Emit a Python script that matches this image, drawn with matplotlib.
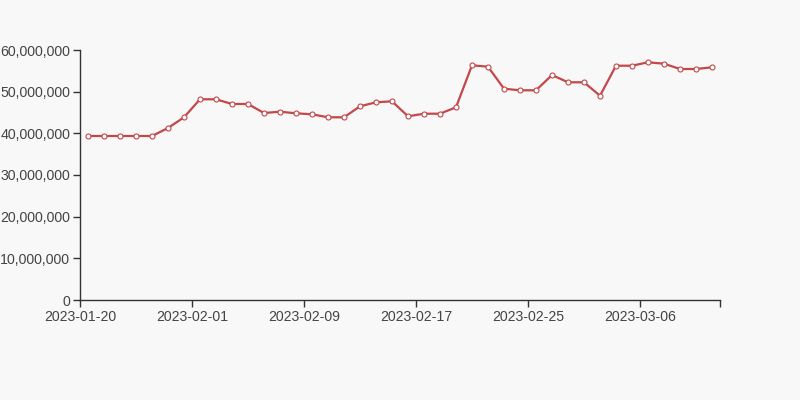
import matplotlib.pyplot as plt
from matplotlib.ticker import FuncFormatter

dates = [
    "2023-01-20", "2023-01-22", "2023-01-24", "2023-01-26", "2023-01-28",
    "2023-01-29", "2023-01-31", "2023-02-01", "2023-02-02", "2023-02-03",
    "2023-02-04", "2023-02-06", "2023-02-07", "2023-02-08", "2023-02-09",
    "2023-02-10", "2023-02-11", "2023-02-13", "2023-02-14", "2023-02-15",
    "2023-02-16", "2023-02-17", "2023-02-18", "2023-02-20", "2023-02-21",
    "2023-02-22", "2023-02-23", "2023-02-24", "2023-02-25", "2023-02-27",
    "2023-02-28", "2023-03-01", "2023-03-02", "2023-03-03", "2023-03-04",
    "2023-03-06", "2023-03-07", "2023-03-08", "2023-03-09", "2023-03-10",
]
values = [
    39.36, 39.36, 39.36, 39.36, 39.36, 41.28, 43.85, 48.17, 48.17, 47.04,
    47.04, 44.88, 45.19, 44.81, 44.57, 43.85, 43.85, 46.49, 47.45, 47.69,
    44.09, 44.71, 44.71, 46.25, 56.33, 55.99, 50.71, 50.33, 50.33, 54.00,
    52.25, 52.25, 49.03, 56.23, 56.23, 57.05, 56.71, 55.44, 55.44, 55.85,
]
values = [v * 1e6 for v in values]
label_every = 7

bg = "#f8f8f8"
line_color = "#c4474a"
axis_color = "#333333"
text_color = "#444444"

plt.rcParams["font.family"] = ["Liberation Sans", "DejaVu Sans"]

fig = plt.figure(figsize=(8, 4), dpi=100, facecolor=bg)
ax = fig.add_axes([0.1, 0.25, 0.8, 0.625], facecolor=bg)

x = list(range(len(values)))
ax.plot(x, values, color=line_color, lw=1.6, marker="o", ms=3.6,
        markerfacecolor="white", markeredgecolor=line_color, markeredgewidth=0.8,
        solid_joinstyle="round")

ax.set_xlim(-0.5, len(values) - 0.5)
ax.set_ylim(0, 60e6)

ticks = [i - 0.5 for i in range(0, len(values), label_every)] + [len(values) - 0.5]
labels = [dates[i] for i in range(0, len(values), label_every)] + [""]
ax.set_xticks(ticks)
ax.set_xticklabels(labels)
ax.set_yticks([0, 10e6, 20e6, 30e6, 40e6, 50e6, 60e6])
ax.yaxis.set_major_formatter(FuncFormatter(lambda v, p: f"{int(v):,}"))

for s in ["top", "right"]:
    ax.spines[s].set_visible(False)
for s in ["left", "bottom"]:
    ax.spines[s].set_color(axis_color)
    ax.spines[s].set_linewidth(1)
ax.tick_params(axis="both", colors=axis_color, length=5, width=1,
               labelsize=10.2, labelcolor=text_color, pad=2)

fig.savefig("out.png", dpi=100, facecolor=bg)
plt.close()
